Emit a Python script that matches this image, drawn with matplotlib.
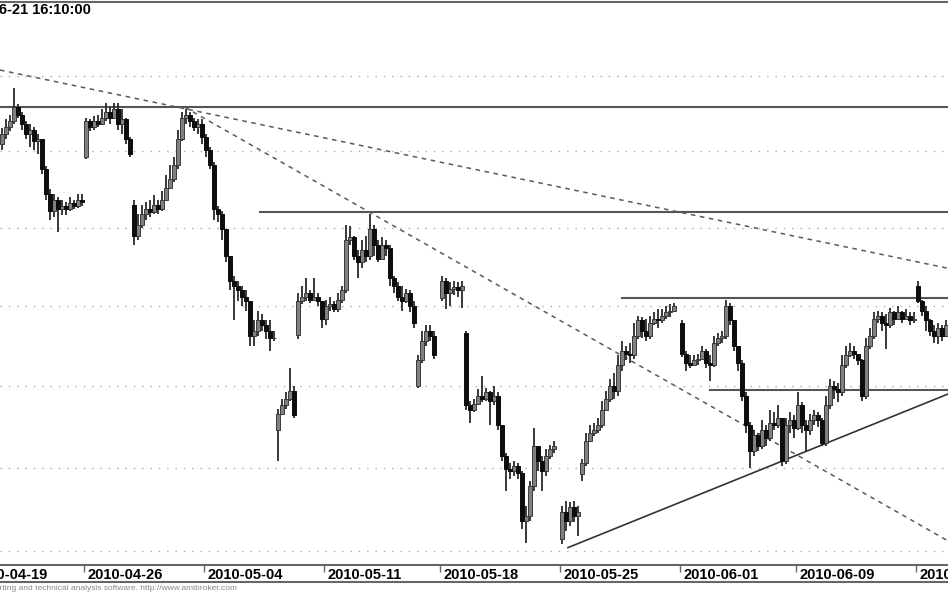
import matplotlib
matplotlib.use('Agg')
import matplotlib.pyplot as plt
import numpy as np
from matplotlib.lines import Line2D
from matplotlib.transforms import offset_copy

nan = np.nan

# intraday bars, one slot per bar (nan = empty slot between sessions)
closes = [
    2511, 2516, 2520, 2529, 2524, 2518, 2511, 2514, 2507, 2508, 2488, 2472, 2461, 2468, 2462, 2464, 2462, 2466, 2464, 2468, 2467,
    2520, 2516, 2520, 2518, 2522, 2526, 2522, 2528, 2518, 2521, 2508, 2498,
    2445, 2452, 2459, 2462, 2460, 2465, 2462, 2468, 2476, 2482, 2491, 2508, 2522, 2524, 2520, 2516, 2518, 2509, 2501, 2491,
    2462, 2459, 2449, 2432, 2416, 2413, 2410, 2406, 2403, 2381, 2384, 2391, 2388, 2384, 2380, 2380,
    2333, 2338, 2342, 2347, 2332,
    2403, 2406, 2408, 2404, 2406, 2403, 2392, 2400, 2401, 2398, 2404, 2410, 2442, 2444, 2432, 2428, 2436, 2432, 2449, 2439,
    2430, 2439, 2437, 2418, 2413, 2406, 2403, 2408, 2400, 2389,
    2366, 2378, 2384, 2381, 2369, nan,
    2416, 2408, 2411, 2412, 2410, 2413,
    2338, 2335, 2339, 2344, 2342, 2346, 2341, 2344, 2326, 2307, 2299, 2298, 2301, 2297, 2268, 2271, 2289, 2313, 2304, 2298,
    2307, 2311, 2313, nan,
    2273, 2268, 2276, 2271, 2273,
    2303, 2316, 2321, 2323, 2326, 2335, 2342, 2350, 2347, 2363, 2372, 2370, 2369, 2381, 2391, 2384, 2381, 2389, 2392, 2391,
    2394, 2396, 2397, 2400, nan,
    2370, 2364, 2363, 2366, 2367, 2372, 2364, 2363, 2377, 2380, 2381, 2400, 2391, 2375, 2364, 2344, 2326, 2310, 2320, 2313,
    2323, 2318, 2327, 2326, 2330, 2304, 2326, 2329, 2324, 2338, 2326, 2323, 2329, 2332, 2329, 2315, 2338, 2350, 2348, 2346,
    2363, 2369, 2372, 2370, 2366, 2344, 2375, 2381, 2392, 2394, 2389, 2388, 2396, 2392, 2396, 2392, 2394, 2391, 2392,
    2403, 2397, 2391, 2384, 2381, 2386, 2381, 2388,
]
highs = [
    2515, 2521, 2524, 2542, 2531, 2526, 2520, 2518, 2516, 2511, 2508, 2490, 2475, 2472, 2470, 2468, 2467, 2470, 2468, 2472, 2472,
    2522, 2521, 2523, 2524, 2528, 2532, 2529, 2532, 2532, 2528, 2522, 2509,
    2468, 2459, 2465, 2467, 2468, 2471, 2468, 2474, 2484, 2491, 2496, 2514, 2526, 2528, 2526, 2522, 2521, 2521, 2511, 2503,
    2493, 2464, 2461, 2449, 2432, 2419, 2416, 2413, 2410, 2403, 2391, 2397, 2395, 2391, 2391, 2384,
    2336, 2342, 2346, 2361, 2350,
    2408, 2413, 2418, 2410, 2418, 2408, 2403, 2404, 2406, 2403, 2408, 2413, 2452, 2451, 2445, 2436, 2442, 2445, 2459, 2452,
    2442, 2444, 2442, 2439, 2419, 2415, 2413, 2411, 2410, 2403,
    2369, 2384, 2388, 2388, 2384, nan,
    2419, 2418, 2415, 2416, 2415, 2416,
    2384, 2341, 2342, 2348, 2356, 2349, 2347, 2350, 2346, 2326, 2309, 2303, 2304, 2303, 2298, 2277, 2292, 2324, 2313, 2307,
    2311, 2314, 2316, nan,
    2277, 2280, 2279, 2280, 2277,
    2305, 2321, 2326, 2327, 2330, 2341, 2347, 2354, 2358, 2369, 2378, 2375, 2377, 2389, 2394, 2393, 2392, 2394, 2396, 2398,
    2398, 2400, 2401, 2402, nan,
    2391, 2372, 2369, 2369, 2370, 2375, 2373, 2369, 2381, 2383, 2384, 2404, 2402, 2391, 2375, 2366, 2346, 2328, 2323, 2321,
    2329, 2326, 2335, 2334, 2338, 2330, 2330, 2334, 2332, 2346, 2340, 2329, 2333, 2335, 2334, 2330, 2344, 2354, 2353, 2352,
    2369, 2375, 2377, 2375, 2370, 2367, 2380, 2386, 2396, 2397, 2396, 2395, 2399, 2397, 2400, 2397, 2398, 2396, 2396,
    2416, 2404, 2400, 2392, 2388, 2389, 2388, 2391,
]
lows = [
    2501, 2508, 2513, 2518, 2522, 2514, 2508, 2503, 2501, 2498, 2485, 2468, 2455, 2457, 2447, 2458, 2458, 2461, 2462, 2463, 2464,
    2495, 2513, 2514, 2516, 2517, 2520, 2518, 2521, 2514, 2511, 2505, 2496,
    2439, 2442, 2450, 2455, 2457, 2459, 2459, 2461, 2468, 2475, 2480, 2488, 2507, 2518, 2516, 2513, 2511, 2505, 2496, 2488,
    2455, 2454, 2442, 2428, 2410, 2391, 2403, 2400, 2397, 2375, 2375, 2381, 2384, 2379, 2372, 2378,
    2304, 2332, 2336, 2341, 2330,
    2379, 2401, 2403, 2402, 2403, 2400, 2386, 2388, 2397, 2396, 2396, 2402, 2408, 2439, 2429, 2418, 2424, 2428, 2429, 2432,
    2428, 2429, 2432, 2413, 2408, 2403, 2397, 2402, 2396, 2386,
    2349, 2364, 2375, 2378, 2367, nan,
    2403, 2398, 2400, 2407, 2406, 2399,
    2335, 2327, 2334, 2338, 2340, 2341, 2326, 2338, 2323, 2304, 2286, 2293, 2295, 2293, 2263, 2255, 2268, 2286, 2298, 2286,
    2295, 2305, 2309, nan,
    2254, 2262, 2265, 2267, 2259,
    2292, 2301, 2316, 2319, 2321, 2324, 2335, 2340, 2342, 2344, 2359, 2366, 2364, 2367, 2379, 2380, 2378, 2379, 2388, 2386,
    2389, 2392, 2393, 2396, nan,
    2368, 2359, 2361, 2363, 2363, 2367, 2361, 2353, 2362, 2375, 2377, 2379, 2388, 2372, 2359, 2341, 2321, 2300, 2307, 2310,
    2311, 2313, 2316, 2323, 2324, 2301, 2302, 2321, 2318, 2323, 2321, 2310, 2320, 2326, 2325, 2313, 2313, 2336, 2342, 2340,
    2344, 2361, 2368, 2367, 2363, 2341, 2342, 2373, 2379, 2389, 2384, 2373, 2386, 2388, 2392, 2389, 2391, 2388, 2389,
    2402, 2394, 2384, 2381, 2377, 2376, 2378, 2381,
]
# session opens that differ from the previous close
gap_opens = {0: 2505, 21: 2496, 33: 2465, 69: 2323, 74: 2382, 104: 2350, 110: 2405,
             116: 2383, 140: 2257, 145: 2296, 170: 2389, 229: 2413}

tick_bars = [-8, 21, 51, 81, 110, 140, 170, 199, 229]
tick_labels = ['2010-04-19', '2010-04-26', '2010-05-04', '2010-05-11', '2010-05-18',
               '2010-05-25', '2010-06-01', '2010-06-09', '2010-06-16']
grid_levels = [2250, 2300, 2350, 2400, 2450, 2500, 2550]

# drawn studies: horizontal levels (start bar, price), trend lines ((bar, price), (bar, price))
h_levels = [(-0.5, 2529), (64.5, 2460), (155, 2405), (177, 2347.5)]
dotted_lines = [((-0.5, 2554), (236.5, 2424)), ((45.75, 2529), (236.5, 2256))]
support_line = ((141.5, 2252), (236.5, 2345))

c = np.array(closes, dtype=float)
h = np.array(highs, dtype=float)
l = np.array(lows, dtype=float)
o = np.r_[nan, c[:-1]]
for k, v in gap_opens.items():
    o[k] = v
x = np.arange(len(c))
ok = ~np.isnan(c)

fig = plt.figure(figsize=(9.48, 5.93), dpi=100)
ax = fig.add_axes([0, 28 / 593, 1, 563 / 593])
ax.set_yscale('log')

for lvl in grid_levels:
    ax.axhline(lvl, color='#aaaaaa', lw=1, ls=(0, (1, 5)), zorder=1)

ax.vlines(x[ok], l[ok], h[ok], color='#2a2a2a', lw=1.3, zorder=3)
up = ok & (c >= o)
dn = ok & (c < o)
ax.bar(x[up], (c - o)[up], bottom=o[up], width=0.8, color='#808080',
       edgecolor='#3a3a3a', lw=0.7, zorder=4)
ax.bar(x[dn], (o - c)[dn], bottom=c[dn], width=0.8, color='#0d0d0d',
       edgecolor='#0d0d0d', lw=0.7, zorder=4)

for start, lvl in h_levels:
    ax.plot([start, 236.5], [lvl, lvl], color='#555555', lw=1.5, zorder=2)
for (x0, y0), (x1, y1) in dotted_lines:
    ax.plot([x0, x1], [y0, y1], color='#5a5a5a', lw=1.1, ls=(0, (3, 3)), zorder=2)
(x0, y0), (x1, y1) = support_line
ax.plot([x0, x1], [y0, y1], color='#333333', lw=1.2, zorder=2)

ticks = [b - 0.5 for b in tick_bars]
ax.set_xticks(ticks)
ax.tick_params(axis='x', length=5, width=1, color='#666666', labelbottom=False)
ax.set_xlim(-0.5, 236.5)
ax.set_ylim(2241.7, 2600.2)
ax.yaxis.set_major_locator(plt.NullLocator())
ax.yaxis.set_minor_locator(plt.NullLocator())
ax.tick_params(axis='y', left=False, labelleft=False, which='both')

for side in ['left', 'right']:
    ax.spines[side].set_visible(False)
for side in ['top', 'bottom']:
    ax.spines[side].set_color('#666666')
    ax.spines[side].set_linewidth(1.5)

trans = offset_copy(ax.get_xaxis_transform(), fig=fig, x=4, y=-3, units='dots')
for t, lab in zip(ticks, tick_labels):
    ax.text(t, 0, lab, transform=trans, ha='left', va='top', fontsize=10.5,
            fontweight='bold', family='Liberation Sans', clip_on=False)

fig.add_artist(Line2D([0, 1], [1 - 582 / 593] * 2, transform=fig.transFigure,
                      color='#666666', lw=1.5))
fig.text(-47 / 948, 1 - 10 / 593, '2010-06-21 16:10:00', fontsize=10.5, fontweight='bold',
         va='center', ha='left', family='Liberation Sans')
fig.text(-61 / 948, 1 - 588 / 593,
         'AmiBroker - charting and technical analysis software. http://www.amibroker.com',
         fontsize=6, color='#888888', va='center', ha='left', family='Liberation Sans')

fig.savefig('out.png', dpi=100)
